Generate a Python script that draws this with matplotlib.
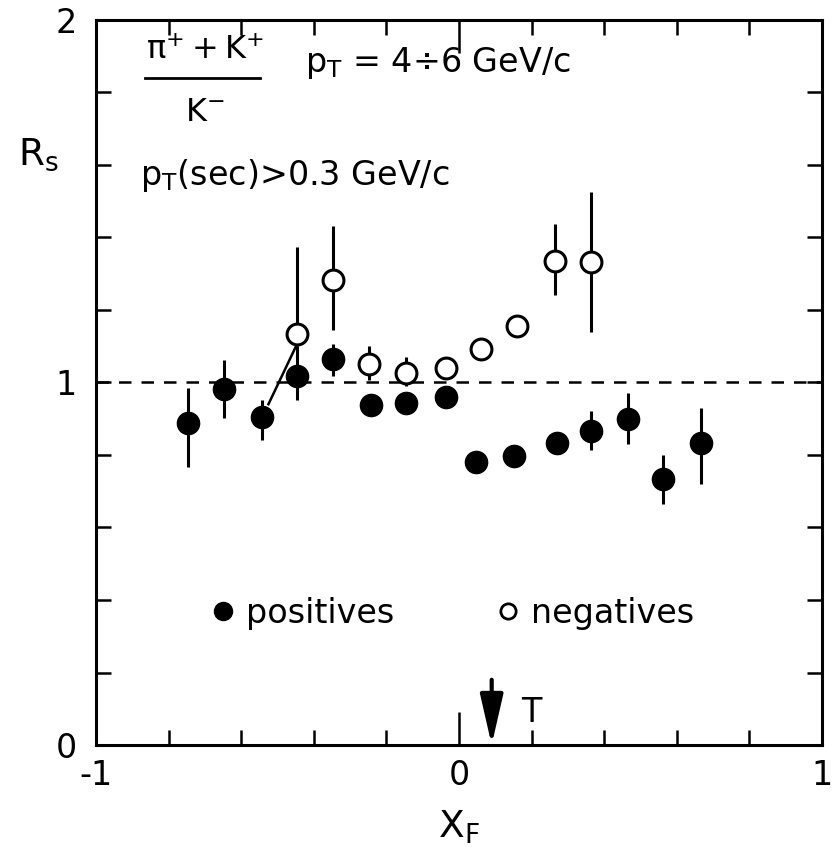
import numpy as np
import matplotlib.pyplot as plt
from matplotlib.lines import Line2D

plt.rcParams['font.family'] = ['DejaVu Sans']
plt.rcParams['mathtext.fontset'] = 'dejavusans'

# positives (filled circles): x_F, R_s, lower and upper end of error bar
pos_x = [-0.747, -0.647, -0.543, -0.446, -0.347, -0.242, -0.146, -0.036,
         0.047, 0.152, 0.270, 0.364, 0.466, 0.562, 0.667]
pos_y = [0.887, 0.983, 0.906, 1.019, 1.064, 0.939, 0.942, 0.959,
         0.782, 0.796, 0.832, 0.867, 0.900, 0.735, 0.832]
pos_lo = [0.768, 0.903, 0.840, 0.953, 1.017, 0.939, 0.942, 0.959,
          0.782, 0.796, 0.832, 0.815, 0.831, 0.666, 0.720]
pos_hi = [0.986, 1.063, 0.953, 1.100, 1.105, 0.939, 0.942, 0.959,
          0.782, 0.796, 0.832, 0.920, 0.972, 0.800, 0.930]

# negatives (open circles)
neg_x = [-0.446, -0.347, -0.248, -0.146, -0.036, 0.061, 0.160, 0.264, 0.364]
neg_y = [1.135, 1.282, 1.052, 1.025, 1.039, 1.091, 1.157, 1.334, 1.331]
neg_lo = [1.100, 1.146, 1.008, 0.990, 1.039, 1.091, 1.157, 1.240, 1.138]
neg_hi = [1.373, 1.431, 1.100, 1.069, 1.039, 1.091, 1.157, 1.436, 1.525]

# slanted bar joining the two points near x_F = -0.5
link_x = [-0.525, -0.449]
link_y = [0.940, 1.100]

arrow_x = 0.09  # "T" marker position

pos_x = np.array(pos_x); pos_y = np.array(pos_y)
neg_x = np.array(neg_x); neg_y = np.array(neg_y)
pos_err = [pos_y - np.array(pos_lo), np.array(pos_hi) - pos_y]
neg_err = [neg_y - np.array(neg_lo), np.array(neg_hi) - neg_y]

fig = plt.figure(figsize=(8.32, 8.66), dpi=100)
ax = fig.add_axes([0.1154, 0.1397, 0.8726, 0.8373])

ax.axhline(1.0, color='black', lw=1.8, dashes=(5, 4), zorder=1)
ax.plot(link_x, link_y, color='black', lw=1.8, zorder=2)

ax.errorbar(pos_x, pos_y, yerr=pos_err, fmt='o', color='black', ms=16,
            elinewidth=2.2, capsize=0, zorder=3)
ax.errorbar(neg_x, neg_y, yerr=neg_err, fmt='o', color='black', ms=15,
            mfc='white', mec='black', mew=2.2, elinewidth=2.2, capsize=0, zorder=4)

ax.set_xlim(-1, 1)
ax.set_ylim(0, 2)

ax.set_xticks([-1, 0, 1])
ax.set_xticklabels(['-1', '0', '1'])
ax.set_xticks(np.arange(-0.8, 0.81, 0.2), minor=True)
ax.set_yticks([0, 1, 2])
ax.set_yticklabels(['0', '1', '2'])
ax.set_yticks(np.arange(0.2, 1.81, 0.2), minor=True)

ax.tick_params(axis='both', which='both', direction='in', top=True, right=True,
               width=1.8, labelsize=24)
ax.tick_params(axis='x', which='major', length=24, pad=10)
ax.tick_params(axis='x', which='minor', length=11)
ax.tick_params(axis='y', which='both', length=11, pad=14)
for s in ax.spines.values():
    s.set_linewidth(2.2)

ax.set_xlabel(r'$\mathrm{X_F}$', fontsize=27, labelpad=12)
ax.text(-0.08, 0.814, r'$\mathrm{R_s}$', transform=ax.transAxes, fontsize=27,
        ha='center', va='center')

# ratio label drawn as a fraction
ax.text(0.150, 0.958, r'$\mathrm{\pi^{+}+K^{+}}$', transform=ax.transAxes,
        fontsize=23, ha='center', va='center')
ax.add_line(Line2D([0.068, 0.226], [0.92, 0.92], transform=ax.transAxes,
                   color='black', lw=2))
ax.text(0.150, 0.873, r'$\mathrm{K^{-}}$', transform=ax.transAxes,
        fontsize=23, ha='center', va='center')
ax.text(0.288, 0.940, r'$\mathrm{p_T}$ = 4÷6 GeV/c', transform=ax.transAxes,
        fontsize=24, ha='left', va='center')
ax.text(0.060, 0.786, r'$\mathrm{p_T}$(sec)>0.3 GeV/c', transform=ax.transAxes,
        fontsize=24, ha='left', va='center')

# arrow marking T
ax.annotate('', xy=(arrow_x, 0.0), xytext=(arrow_x, 0.18),
            arrowprops=dict(arrowstyle='-|>,head_width=0.32,head_length=1.4',
                            color='black', lw=3, mutation_scale=22,
                            shrinkA=0, shrinkB=0))
ax.text(0.2, 0.09, 'T', fontsize=24, ha='center', va='center')

handles = [Line2D([], [], ls='none', marker='o', ms=13, color='black'),
           Line2D([], [], ls='none', marker='o', ms=11, mfc='white',
                  mec='black', mew=2)]
ax.legend(handles, ['positives', 'negatives'], loc='center',
          bbox_to_anchor=(0.49, 0.182), ncol=2, frameon=False, fontsize=24,
          handlelength=0.8, handletextpad=0.3, columnspacing=3.0)

fig.savefig('out.png', dpi=100)
